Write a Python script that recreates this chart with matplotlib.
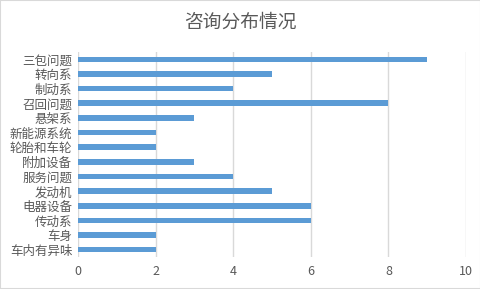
import matplotlib
matplotlib.use("Agg")
import matplotlib.pyplot as plt
from matplotlib.patches import Rectangle

plt.rcParams['font.family'] = ['Noto Sans CJK SC', 'DejaVu Sans']

categories = ["三包问题", "转向系", "制动系", "召回问题", "悬架系", "新能源系统", "轮胎和车轮",
              "附加设备", "服务问题", "发动机", "电器设备", "传动系", "车身", "车内有异味"]
values = [9, 5, 4, 8, 3, 2, 2, 3, 4, 5, 6, 6, 2, 2]
xticks = [0, 2, 4, 6, 8, 10]
title = "咨询分布情况"

fig = plt.figure(figsize=(4.81, 2.89), dpi=100)
ax = fig.add_axes([78/481, 1-257/289, (466-78)/481, (257-52)/289])

pos = list(range(len(categories)))[::-1]
ax.barh(pos, values, height=0.38, color="#5B9BD5", zorder=3)
ax.set_ylim(-0.5, len(categories)-0.5)
ax.set_xlim(0, 10)
ax.set_xticks(xticks)
ax.set_xticklabels([str(t) for t in xticks])
ax.set_yticks(pos)
ax.set_yticklabels(categories)
ax.tick_params(axis='both', length=0, labelsize=9, labelcolor="#595959")
ax.tick_params(axis='x', pad=6)
ax.tick_params(axis='y', pad=4)
ax.grid(axis='x', color="#D9D9D9", linewidth=1, zorder=0)
for s in ax.spines.values():
    s.set_visible(False)

fig.text(0.5, 1-22/289, title, ha='center', va='center', fontsize=13.5, color="#595959")
fig.patches.append(Rectangle((0, 0), 1, 1, transform=fig.transFigure, fill=False,
                             edgecolor="#D9D9D9", linewidth=1.5))
fig.savefig("out.png", dpi=100)
